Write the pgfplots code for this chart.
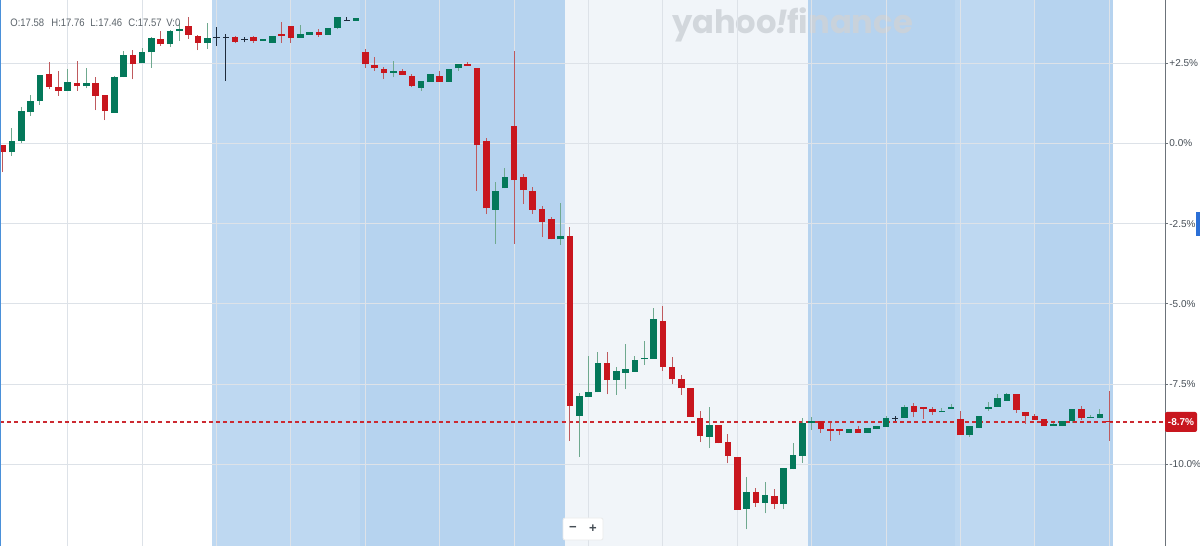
\documentclass[border=0pt]{standalone}
\usepackage{fontspec}
\setmainfont{Liberation Sans}
\newfontfamily\wmfont{Poppins}
\newfontfamily\ohlcfont{Liberation Sans}[FakeStretch=0.88]
\usepackage{graphicx}
\usepackage{pgfplots}
\usepackage{pgfplotstable}
\pgfplotsset{compat=1.18}

\definecolor{cgreen}{HTML}{04785A}
\definecolor{cred}{HTML}{C8161E}
\definecolor{dashred}{HTML}{CC2A31}
\definecolor{wgreen}{HTML}{6FA98F}
\definecolor{wred}{HTML}{BF5A5E}
\definecolor{cdoji}{HTML}{1E2B3C}
\definecolor{bluea}{HTML}{BED8F1}
\definecolor{blueb}{HTML}{B6D3EF}
\definecolor{lightbg}{HTML}{F1F5F9}
\definecolor{gridc}{HTML}{DDE2E8}
\definecolor{axisc}{HTML}{6C737A}
\definecolor{labc}{HTML}{464E56}
\definecolor{ohlc}{HTML}{5B636A}
\definecolor{tabblue}{HTML}{2B6FD6}
\definecolor{edgeblue}{HTML}{4A90D9}
\definecolor{wmark}{HTML}{CDD2D8}

% x o h l c  (values in percent)
\pgfplotstableread{
x o h l c
1 -0.27 0.49 -0.38 0.09
2 0.09 1.15 0.01 1.01
3 0.99 1.50 0.87 1.32
4 1.33 2.14 1.20 2.13
7 1.64 2.31 1.64 1.92
9 1.79 2.36 1.72 1.90
12 0.96 2.09 0.96 2.07
13 2.06 2.89 2.06 2.76
15 2.50 2.97 2.50 2.84
16 2.84 3.32 2.36 3.29
18 3.10 3.54 3.00 3.52
19 3.51 3.77 3.20 3.56
22 3.14 3.77 2.94 3.29
28 3.19 3.26 3.19 3.25
29 3.13 3.36 3.13 3.36
32 3.30 3.69 3.30 3.41
33 3.39 3.47 3.39 3.47
35 3.39 3.61 3.39 3.61
36 3.60 3.93 3.56 3.93
38 3.82 3.90 3.82 3.90
42 2.21 2.58 2.06 2.27
45 1.74 1.95 1.65 1.95
46 1.93 2.16 1.93 2.16
48 1.93 2.31 1.93 2.31
49 2.34 2.48 2.26 2.48
53 -2.07 -1.19 -3.13 -1.47
54 -1.40 -0.77 -1.40 -1.05
60 -2.99 -1.86 -3.16 -2.88
62 -8.49 -7.77 -9.76 -7.87
63 -7.91 -6.62 -7.91 -7.74
64 -7.76 -6.49 -7.76 -6.85
66 -7.37 -6.98 -7.84 -7.09
67 -7.14 -6.25 -7.66 -7.04
68 -7.12 -6.62 -7.12 -6.75
69 -6.73 -6.15 -6.90 -6.68
70 -6.71 -5.14 -6.71 -5.48
76 -9.14 -8.22 -9.50 -8.77
80 -11.40 -10.41 -12.03 -10.85
82 -11.20 -10.56 -11.53 -10.96
84 -11.24 -10.11 -11.40 -10.11
85 -10.16 -9.35 -10.16 -9.71
86 -9.74 -8.55 -9.95 -8.70
87 -8.70 -8.54 -8.93 -8.65
91 -9.02 -8.90 -9.02 -8.90
93 -9.02 -8.86 -9.02 -8.86
94 -8.91 -8.81 -8.91 -8.81
95 -8.83 -8.49 -8.83 -8.55
97 -8.55 -8.15 -8.55 -8.22
101 -8.38 -8.25 -8.38 -8.34
102 -8.28 -8.13 -8.28 -8.22
104 -9.09 -8.81 -9.14 -8.81
105 -8.88 -8.48 -8.88 -8.48
106 -8.28 -8.07 -8.33 -8.22
107 -8.20 -7.81 -8.20 -7.92
108 -8.02 -7.77 -8.02 -7.81
113 -8.81 -8.72 -8.81 -8.75
114 -8.81 -8.65 -8.81 -8.65
115 -8.65 -8.28 -8.72 -8.28
117 -8.56 -8.46 -8.56 -8.53
118 -8.57 -8.28 -8.57 -8.43
}\up

\pgfplotstableread{
x o h l c
0 -0.05 -0.05 -0.89 -0.26
5 2.17 2.53 1.69 1.77
6 1.77 2.27 1.49 1.64
8 1.90 2.57 1.65 1.79
10 1.90 2.06 1.04 1.49
11 1.51 1.51 0.73 1.01
14 2.76 2.91 2.00 2.47
17 3.27 3.52 3.05 3.10
20 3.67 3.95 3.26 3.39
21 3.35 3.38 2.91 3.14
25 3.31 3.36 3.12 3.17
27 3.31 3.35 3.14 3.19
30 3.42 3.78 3.14 3.35
31 3.67 3.67 3.14 3.30
34 3.47 3.56 3.33 3.37
39 2.86 2.95 2.34 2.47
40 2.45 2.71 2.27 2.34
41 2.32 2.39 2.01 2.21
43 2.27 2.32 2.14 2.14
44 2.10 2.17 1.75 1.79
47 2.10 2.27 1.93 1.93
50 2.49 2.55 2.42 2.42
51 2.36 2.36 -1.47 -0.05
52 0.09 0.18 -2.20 -2.02
55 0.55 2.89 -3.13 -1.14
56 -1.05 -0.95 -1.89 -1.45
57 -1.47 -1.35 -2.20 -2.07
58 -2.05 -1.95 -2.92 -2.44
59 -2.35 -2.30 -2.99 -2.99
61 -2.88 -2.59 -9.27 -8.17
65 -6.85 -6.49 -7.82 -7.37
71 -5.53 -5.07 -7.08 -6.96
72 -6.96 -6.66 -7.50 -7.35
73 -7.35 -7.22 -7.84 -7.63
74 -7.63 -7.63 -8.52 -8.52
75 -8.55 -8.34 -9.31 -9.12
77 -8.77 -8.77 -9.35 -9.35
78 -9.30 -9.06 -9.97 -9.74
79 -9.76 -9.76 -11.42 -11.42
81 -10.85 -10.75 -11.32 -11.20
83 -10.98 -10.78 -11.40 -11.24
88 -8.65 -8.65 -9.02 -8.91
89 -8.90 -8.70 -9.27 -8.96
90 -8.90 -8.90 -9.09 -8.96
92 -8.90 -8.80 -9.02 -9.02
98 -8.18 -8.10 -8.54 -8.36
99 -8.22 -8.22 -8.59 -8.28
100 -8.28 -8.20 -8.46 -8.36
103 -8.60 -8.34 -9.09 -9.09
109 -7.81 -7.81 -8.39 -8.31
110 -8.38 -8.38 -8.74 -8.49
111 -8.49 -8.42 -8.62 -8.62
112 -8.60 -8.60 -8.81 -8.81
116 -8.28 -8.17 -8.62 -8.57
119 -8.64 -7.71 -9.26 -8.69
}\down

\pgfplotstableread{
x o h l
23 3.31 3.62 3.05
24 3.31 3.40 1.96
26 3.23 3.31 3.15
37 3.83 3.95 3.83
96 -8.57 -8.49 -8.65
}\doji

% last price line
\pgfplotstableread{
x y
-0.29 -8.68
125 -8.68
}\last

\pgfplotsset{
  wick/.style={draw=none, mark=none, forget plot,
    error bars/.cd, y dir=plus, y explicit, error mark=none,
    error bar style={line width=0.5pt, draw=#1}},
  body/.style={draw=none, mark=none, forget plot,
    error bars/.cd, y dir=plus, y explicit, error mark=none,
    error bar style={line width=3.3pt, draw=#1}},
}

\begin{document}
\begin{tikzpicture}
\useasboundingbox (0,0) rectangle (600pt,273pt);
% backgrounds (pixel coordinates)
\begin{scope}[x=0.5pt, y=-0.5pt, yshift=273pt]
  \fill[white] (0,0) rectangle (1200,546);
  \fill[bluea] (212,0) rectangle (360,546);
  \fill[blueb] (360,0) rectangle (565,546);
  \fill[lightbg] (565,0) rectangle (808,546);
  \fill[blueb] (808,0) rectangle (955,546);
  \fill[bluea] (955,0) rectangle (1035,546);
  \fill[blueb] (1035,0) rectangle (1113,546);
  \node[text=wmark, text opacity=0.85, font=\wmfont\bfseries, inner sep=0pt]
     at (792.5,24.5) {\resizebox{120.5pt}{!}{yahoo\kern-0.05em\textit{!}\kern-0.02em finance}};
\end{scope}

\begin{axis}[
  at={(0,0)}, anchor=south west,
  scale only axis, width=582.5pt, height=273pt,
  xmin=-0.29, xmax=125, ymin=-12.547, ymax=4.473,
  axis line style={draw=none},
  xtick={7,15,...,119}, xticklabels={}, xtick style={draw=none},
  xmajorgrids, ymajorgrids,
  grid style={draw=gridc, line width=0.5pt},
  ytick={-10,-7.5,-5,-2.5,0,2.5},
  yticklabels={-10.0\%,-7.5\%,-5.0\%,-2.5\%,0.0\%,+2.5\%},
  ytick pos=right, yticklabel pos=right,
  tick align=outside, major tick length=1.5pt,
  ytick style={draw=axisc, line width=0.4pt},
  yticklabel style={font=\fontsize{5}{6}\selectfont, text=labc, inner sep=0.5pt, anchor=west},
]
\addplot[color=dashred, mark=none, line width=0.6pt, dash pattern=on 2pt off 1.6pt, forget plot]
  table[x=x, y=y] {\last};

\addplot[wick=wgreen] table[x=x, y=l, y error plus expr=\thisrow{h}-\thisrow{l}] {\up};
\addplot[wick=wred] table[x=x, y=l, y error plus expr=\thisrow{h}-\thisrow{l}] {\down};
\addplot[wick=cdoji] table[x=x, y=l, y error plus expr=\thisrow{h}-\thisrow{l}] {\doji};
\addplot[body=cgreen] table[x=x, y=o, y error plus expr=\thisrow{c}-\thisrow{o}] {\up};
\addplot[body=cred] table[x=x, y=c, y error plus expr=\thisrow{o}-\thisrow{c}] {\down};
\addplot[draw=none, mark=none, forget plot,
  error bars/.cd, x dir=both, x fixed=0.33, error mark=none,
  error bar style={line width=0.6pt, draw=cdoji}] table[x=x, y=o] {\doji};
\end{axis}

\begin{scope}[x=0.5pt, y=-0.5pt, yshift=273pt]
  \draw[axisc, line width=0.5pt] (1165,0) -- (1165,546);
  \draw[edgeblue, line width=0.6pt] (0.3,0) -- (0.3,546);
  \fill[tabblue] (1196,212) rectangle (1200,236);
  \node[fill=cred, text=white, font=\bfseries\fontsize{5}{6}\selectfont,
        rounded corners=1pt, minimum width=16pt, minimum height=10pt, inner sep=0pt]
        at (1181,422) {-8.7\%};
  \begin{scope}[font=\ohlcfont\fontsize{5.4}{6}\selectfont, text=ohlc]
    \node[anchor=west, inner sep=0pt] at (10,23) {O:17.58};
    \node[anchor=west, inner sep=0pt] at (51,23) {H:17.76};
    \node[anchor=west, inner sep=0pt] at (90,23) {L:17.46};
    \node[anchor=west, inner sep=0pt] at (128,23) {C:17.57};
    \node[anchor=west, inner sep=0pt] at (166,23) {V:0};
  \end{scope}
  \draw[fill=white, draw=black!8, rounded corners=1pt] (563,518) rectangle (603,540);
  \node[text=labc, font=\bfseries\fontsize{6.5}{7}\selectfont] at (573,529) {\textminus};
  \node[text=labc, font=\bfseries\fontsize{6.5}{7}\selectfont] at (593,529) {+};
\end{scope}
\end{tikzpicture}
\end{document}
